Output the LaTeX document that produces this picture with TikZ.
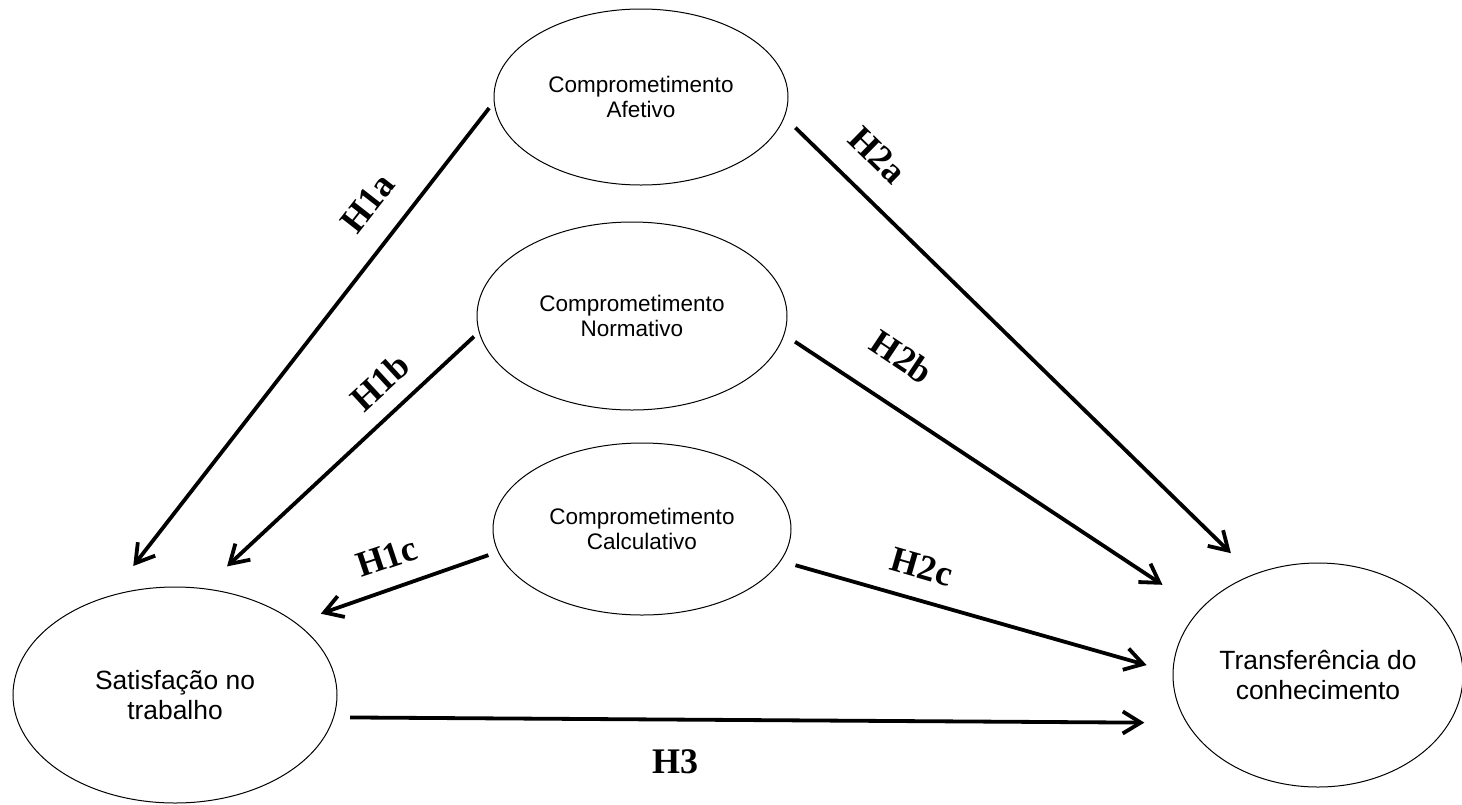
\documentclass[tikz,border=0pt]{standalone}
\usepackage{fontspec}
\setmainfont{Liberation Serif}
\setsansfont{Liberation Sans}
\usetikzlibrary{shapes.geometric,arrows.meta}

\tikzset{
  construct/.style={ellipse, draw, line width=0.5pt, inner sep=0pt, align=center,
    font=\sffamily\fontsize{11.25}{12.5}\selectfont},
  outcome/.style={construct, font=\sffamily\fontsize{13.2}{15}\selectfont},
  hyp/.style={line width=1.9pt, -{Straight Barb[length=9pt,width=11pt]}},
  hlabel/.style={font=\bfseries\fontsize{18}{20}\selectfont, inner sep=0pt}
}

\begin{document}
\begin{tikzpicture}[x=0.5pt, y=-0.5pt]
            \useasboundingbox (0,0) rectangle (1462,804);

            % Constructs
            \node[construct, minimum width=147pt, minimum height=88pt] (afe) at (641,97) {Comprometimento\\Afetivo};
            \node[construct, minimum width=155pt, minimum height=94pt] (nor) at (632,316) {Comprometimento\\Normativo};
            \node[construct, minimum width=149pt, minimum height=86pt] (cal) at (642,529) {Comprometimento\\Calculativo};
            \node[outcome, minimum width=162pt, minimum height=108pt] (sat) at (175,695) {Satisfação no\\trabalho};
            \node[outcome, minimum width=145pt, minimum height=112pt] (tra) at (1318,675) {Transferência do\\conhecimento};

            % Hypotheses
            \draw[hyp, shorten <=3.75pt, shorten >=18.65pt] (afe.182.8) -- (sat.123.8);
            \draw[hyp, shorten <=3.25pt, shorten >=16pt] (nor.186.6) -- (sat.75);
            \draw[hyp, shorten <=5pt, shorten >=13.25pt] (cal.189.9) -- (sat.31.2);
            \draw[hyp, shorten <=8pt, shorten >=21pt] (sat.352.5) -- (tra.200.3);
            \draw[hyp, shorten <=7.5pt, shorten >=15.25pt] (afe.352.3) -- (tra.123.6);
            \draw[hyp, shorten <=6.35pt, shorten >=22.35pt] (nor.353.6) -- (tra.151);
            \draw[hyp, shorten <=7.6pt, shorten >=13.5pt] (cal.347.1) -- (tra.179.4);

            % Labels
            \node[hlabel, rotate=52] (h1a) at (368,203) {H1a};
            \node[hlabel, rotate=42.7] (h1b) at (380,382) {H1b};
            \node[hlabel, rotate=18.5] (h1c) at (387,557) {H1c};
            \node[hlabel, rotate=-44.4] (h2a) at (878,155) {H2a};
            \node[hlabel, rotate=-33.7] (h2b) at (902,357) {H2b};
            \node[hlabel, rotate=-16] (h2c) at (922,567) {H2c};
            \node[hlabel] (h3) at (675,762) {H3};
        \end{tikzpicture}
\end{document}
